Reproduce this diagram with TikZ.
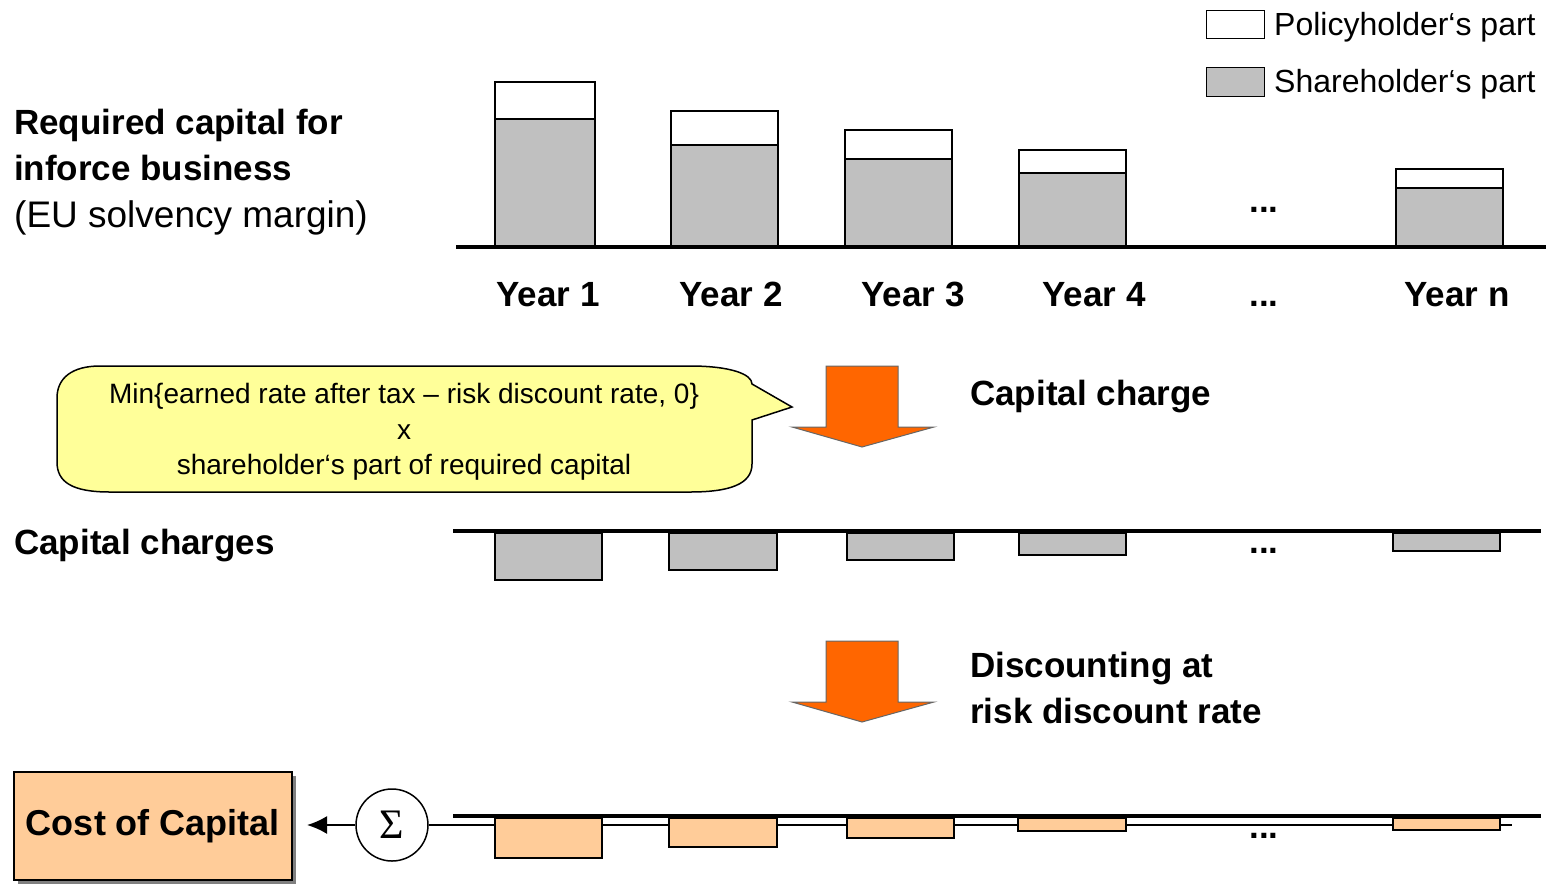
\documentclass[tikz,border=0pt]{standalone}
\usepackage{fontspec}
\setmainfont{Liberation Sans}
\newfontfamily\sigmafont{Liberation Serif}
\usetikzlibrary{arrows.meta}
\definecolor{barGray}{HTML}{C0C0C0}
\definecolor{peach}{HTML}{FFCC99}
\definecolor{arrOrange}{HTML}{FF6600}
\definecolor{callYellow}{HTML}{FFFF99}
\tikzset{
  x=1pt, y=-1pt,
  axisline/.style={line width=4pt},
  graybar/.style={draw=black, line width=1.5pt, fill=barGray},
  whitebar/.style={draw=black, line width=1.5pt, fill=white},
  peachbar/.style={draw=black, line width=1.5pt, fill=peach},
  bigbold/.style={font=\fontsize{35}{40}\selectfont\bfseries, inner sep=0pt},
  bigreg/.style={font=\fontsize{37}{42}\selectfont, inner sep=0pt},
  legtext/.style={font=\fontsize{32}{36}\selectfont, inner sep=0pt, anchor=base west},
  calltxt/.style={font=\fontsize{28}{32}\selectfont, inner sep=0pt, anchor=base},
  orangearrow/.style={draw=black!60, line width=1pt, fill=arrOrange},
}
\begin{document}
\begin{tikzpicture}
\useasboundingbox (0,0) rectangle (1546,884);

% ---------- legend ----------
\draw[whitebar, line width=1pt] (1206,10) rectangle (1264,38);
\draw[graybar, line width=1pt] (1206,67) rectangle (1264,96);
\node[legtext] (legP) at (1274,35) {Policyholder‘s part};
\node[legtext] (legS) at (1274,92) {Shareholder‘s part};

% ---------- left titles ----------
\node[bigbold, anchor=base west] (t1) at (14,134) {Required capital for};
\node[bigbold, anchor=base west] (t2) at (14,180) {inforce business};
\node[bigreg, anchor=base west] (t3) at (14,227) {(EU solvency margin)};

% ---------- top bars ----------
\foreach \xa/\xb/\top/\mid in {495/595/82/119, 671/778/111/145, 845/952/130/159, 1019/1126/150/173, 1396/1503/169/188}{
  \draw[graybar] (\xa,\mid) rectangle (\xb,247);
  \draw[whitebar] (\xa,\top) rectangle (\xb,\mid);
}
\draw[axisline] (456,247) -- (1546,247);
\node[bigbold, anchor=base] (dtop) at (1264,212) {...};

\node[bigbold, anchor=base] (y1) at (548,306) {Year 1};
\node[bigbold, anchor=base] (y2) at (731,306) {Year 2};
\node[bigbold, anchor=base] (y3) at (913,306) {Year 3};
\node[bigbold, anchor=base] (y4) at (1094,306) {Year 4};
\node[bigbold, anchor=base] (ydots) at (1264,306) {...};
\node[bigbold, anchor=base] (yn) at (1457,306) {Year n};

% ---------- callout ----------
\draw[black, line width=1.5pt, fill=callYellow]
  (100,366) -- (690,366) .. controls (730,366) and (752,374) .. (752,384)
  -- (792,407) -- (752,420) -- (752,464)
  .. controls (752,484) and (730,492) .. (690,492) -- (110,492)
  .. controls (72,492) and (57,482) .. (57,462) -- (57,398)
  .. controls (57,378) and (72,366) .. (100,366) -- cycle;
\node[calltxt] (c1) at (404,403) {Min\{earned rate after tax – risk discount rate, 0\}};
\node[calltxt] (c2) at (404,439) {x};
\node[calltxt] (c3) at (404,474) {shareholder‘s part of required capital};

% ---------- orange arrows ----------
\draw[orangearrow] (826,366) -- (898,366) -- (898,427) -- (934,427) -- (862,447) -- (792,427) -- (826,427) -- cycle;
\draw[orangearrow] (826,641) -- (898,641) -- (898,702) -- (934,702) -- (862,722) -- (792,702) -- (826,702) -- cycle;
\node[bigbold, anchor=base west] (cc) at (970,405) {Capital charge};
\node[bigbold, anchor=base west] (dr1) at (970,677) {Discounting at};
\node[bigbold, anchor=base west] (dr2) at (970,723) {risk discount rate};

% ---------- capital charges ----------
\node[bigbold, anchor=base west] (chg) at (14,554) {Capital charges};
\foreach \xa/\xb/\bot in {495/602/580, 669/777/570, 847/954/560, 1019/1126/555, 1393/1500/551}{
  \draw[graybar] (\xa,533) rectangle (\xb,\bot);
}
\draw[axisline] (453,531) -- (1541,531);
\node[bigbold, anchor=base] (dmid) at (1264,553) {...};

% ---------- discounted ----------
\node[draw=none, fill=black!50, minimum width=278pt, minimum height=108pt, inner sep=0pt] (cocshadow) at (157,830) {};
\node[draw=black, line width=2pt, fill=peach, minimum width=278pt, minimum height=108pt, inner sep=0pt,
      font=\fontsize{36}{40}\selectfont\bfseries] (coc) at (153,826) {Cost of Capital};
\node[draw=black, line width=1.5pt, fill=white, circle, minimum size=72pt, inner sep=0pt,
      font=\fontsize{42}{46}\sigmafont] (sum) at (392,825) {Σ};
\coordinate (lineEnd) at (1512,825);
\draw[line width=1.5pt] (sum.east) -- (lineEnd);
\draw[line width=2pt, -{Latex[length=20pt,width=18pt]}, shorten >=14pt] (sum.west) -- (coc.east |- sum.west);
\foreach \xa/\xb/\bot in {495/602/858, 669/777/847, 847/954/838, 1018/1126/831, 1393/1500/830}{
  \draw[peachbar] (\xa,818) rectangle (\xb,\bot);
}
\draw[axisline] (453,816) -- (1541,816);
\node[bigbold, anchor=base] (dbot) at (1264,838) {...};
\end{tikzpicture}
\end{document}
